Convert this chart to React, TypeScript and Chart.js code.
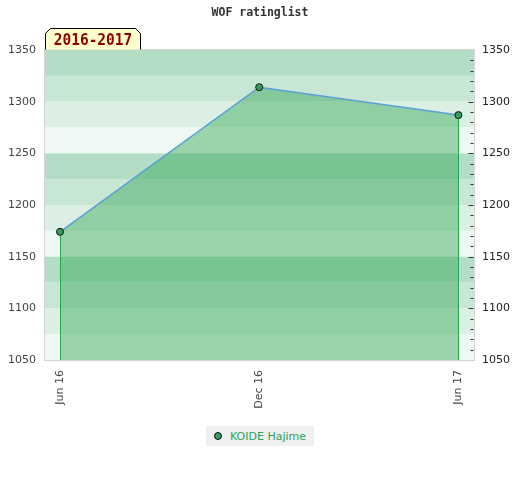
import { useEffect, useRef } from 'react';
import { Chart, registerables } from 'chart.js';

Chart.register(...registerables);

const TITLE = 'WOF ratinglist';
const PERIOD = '2016-2017';
const SERIES_NAME = 'KOIDE Hajime';
const monthLabels = ['Jun 16', 'Dec 16', 'Jun 17'];
const monthOffsets = [0, 6, 12];
const ratings = [1174, 1314, 1287];
const yMin = 1050;
const yMax = 1350;
const yStep = 50;
const bandStep = 25;
const minorStep = 10;

const bandColors = ['#b3dec5', '#c8e6d4', '#dcefe4', '#f0f8f3'];

const decorPlugin = {
  id: 'decor',
  beforeDatasetsDraw(chart: any) {
    const { ctx, chartArea: a, scales } = chart;
    const y = scales.y;
    ctx.save();
    let k = 0;
    for (let v = yMax; v > yMin; v -= bandStep) {
      const top = y.getPixelForValue(v);
      const bot = y.getPixelForValue(v - bandStep);
      ctx.fillStyle = bandColors[k % 4];
      ctx.fillRect(a.left, top, a.right - a.left, bot - top);
      k++;
    }
    ctx.strokeStyle = '#d4d4d4';
    ctx.lineWidth = 1;
    ctx.strokeRect(a.left - 0.5, a.top - 0.5, a.right - a.left + 1, a.bottom - a.top + 1);
    ctx.restore();
  },
  afterDatasetsDraw(chart: any) {
    const { ctx, chartArea: a, scales } = chart;
    const x = scales.x;
    const y = scales.y;
    ctx.save();
    ctx.strokeStyle = '#22a84e';
    ctx.lineWidth = 1;
    [0, monthOffsets.length - 1].forEach((i) => {
      const px = Math.round(x.getPixelForValue(monthOffsets[i])) + 0.5;
      const py = y.getPixelForValue(ratings[i]) + 4;
      ctx.beginPath();
      ctx.moveTo(px, py);
      ctx.lineTo(px, a.bottom);
      ctx.stroke();
    });
    // right-side minor ticks
    ctx.strokeStyle = '#333';
    for (let v = yMin + minorStep; v < yMax; v += minorStep) {
      const py = Math.round(y.getPixelForValue(v)) + 0.5;
      const len = v % yStep === 0 ? 5 : 3;
      ctx.beginPath();
      ctx.moveTo(a.right - len - 0.5, py);
      ctx.lineTo(a.right - 0.5, py);
      ctx.stroke();
    }
    ctx.restore();
  },
  afterDraw(chart: any) {
    const { ctx, chartArea: a } = chart;
    ctx.save();
    // title
    ctx.fillStyle = '#333';
    ctx.font = 'bold 11.5px "DejaVu Sans Mono"';
    ctx.textAlign = 'center';
    ctx.textBaseline = 'middle';
    ctx.fillText(TITLE, 260, 13);
    // period tag
    const l = a.left + 0.5;
    const r = 140.5;
    const t = 28.5;
    const b = a.top - 0.5;
    ctx.beginPath();
    ctx.moveTo(l, b);
    ctx.lineTo(l, t + 5);
    ctx.lineTo(l + 5, t);
    ctx.lineTo(r - 5, t);
    ctx.lineTo(r, t + 5);
    ctx.lineTo(r, b);
    ctx.closePath();
    ctx.fillStyle = '#ffffcc';
    ctx.fill();
    ctx.beginPath();
    ctx.moveTo(l, b);
    ctx.lineTo(l, t + 5);
    ctx.lineTo(l + 5, t);
    ctx.lineTo(r - 5, t);
    ctx.lineTo(r, t + 5);
    ctx.lineTo(r, b);
    ctx.strokeStyle = '#000';
    ctx.lineWidth = 1;
    ctx.stroke();
    ctx.translate((l + r) / 2, 40.5);
    ctx.scale(1, 1.1);
    ctx.fillStyle = '#8b0000';
    ctx.font = 'bold 14.5px "DejaVu Sans Mono"';
    ctx.textAlign = 'center';
    ctx.textBaseline = 'middle';
    ctx.fillText(PERIOD, 0, 0);
    ctx.restore();
  },
};

const plainNumber = (v: any) => String(v);

export default function App() {
  const ref = useRef<HTMLCanvasElement | null>(null);

  useEffect(() => {
    document.body.style.margin = '0';
    if (!ref.current) return;
    const chart = new Chart(ref.current, {
      type: 'line',
      data: {
        datasets: [
          {
            label: SERIES_NAME,
            data: monthOffsets.map((m, i) => ({ x: m, y: ratings[i] })),
            borderColor: '#5a9fd8',
            borderWidth: 1.5,
            backgroundColor: 'rgba(38,160,76,0.42)',
            fill: 'start',
            tension: 0,
            pointRadius: 3.5,
            pointBackgroundColor: '#30a060',
            pointBorderColor: '#111',
            pointBorderWidth: 1,
          },
        ],
      },
      options: {
        responsive: false,
        animation: false,
        layout: { padding: { top: 50, left: 0, right: 0, bottom: 0 } },
        plugins: {
          legend: { display: false },
          title: { display: false },
          tooltip: { enabled: false },
        },
        scales: {
          x: {
            type: 'linear',
            min: -0.452,
            max: 12.47,
            grid: { display: false, drawTicks: false },
            border: { display: false },
            afterBuildTicks: (scale: any) => {
              scale.ticks = monthOffsets.map((v) => ({ value: v }));
            },
            afterFit: (scale: any) => {
              scale.height = 120;
            },
            ticks: {
              autoSkip: false,
              minRotation: 90,
              maxRotation: 90,
              padding: 10,
              color: '#444',
              font: { family: '"DejaVu Sans"', size: 11 },
              callback: (v: any) => {
                const i = monthOffsets.indexOf(Number(v));
                return i >= 0 ? monthLabels[i] : '';
              },
            },
          },
          y: {
            position: 'left',
            min: yMin,
            max: yMax,
            grid: { display: false, drawTicks: false },
            border: { display: false },
            afterFit: (scale: any) => {
              scale.width = 45;
            },
            ticks: {
              stepSize: yStep,
              padding: 9,
              color: '#444',
              font: { family: '"DejaVu Sans"', size: 11 },
              callback: plainNumber,
            },
          },
          y2: {
            position: 'right',
            min: yMin,
            max: yMax,
            grid: { display: false, drawTicks: false },
            border: { display: false },
            afterFit: (scale: any) => {
              scale.width = 46;
            },
            ticks: {
              stepSize: yStep,
              padding: 8,
              color: '#222',
              font: { family: '"DejaVu Sans"', size: 11 },
              callback: plainNumber,
            },
          },
        },
      },
      plugins: [decorPlugin],
    });
    return () => chart.destroy();
  }, []);

  return (
    <div style={{ position: 'relative', width: 520, height: 480 }}>
      <canvas ref={ref} width={520} height={480} style={{ display: 'block' }} />
      <div
        style={{
          position: 'absolute',
          left: 206,
          top: 426,
          width: 108,
          height: 20,
          background: '#f0f0f0',
          fontFamily: '"DejaVu Sans"',
          fontSize: 11,
          color: '#2ca25a',
          display: 'flex',
          alignItems: 'center',
        }}
      >
        <span
          style={{
            display: 'inline-block',
            width: 6,
            height: 6,
            borderRadius: '50%',
            background: '#30a060',
            border: '1px solid #111',
            marginLeft: 8,
            marginRight: 8,
          }}
        />
        <span>{SERIES_NAME}</span>
      </div>
    </div>
  );
}
